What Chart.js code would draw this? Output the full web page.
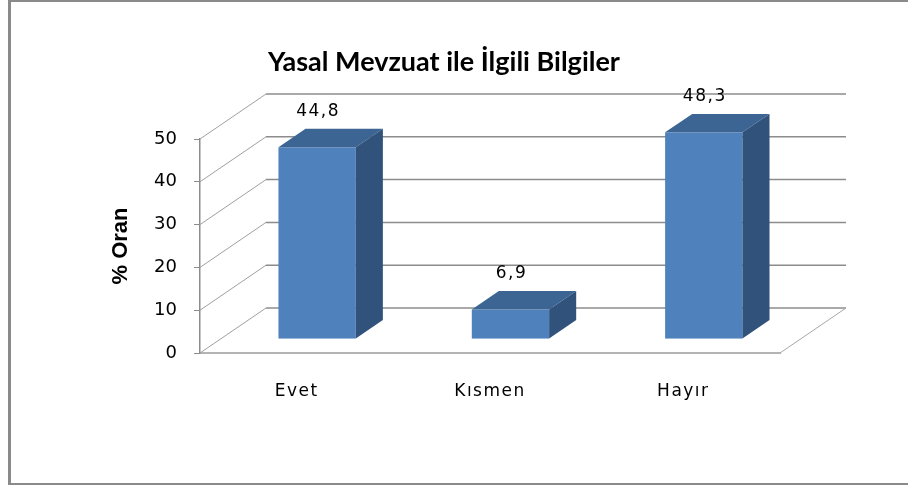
<!DOCTYPE html>
<html>
<head>
<meta charset="utf-8">
<script src="https://cdn.jsdelivr.net/npm/chart.js@4.4.0/dist/chart.umd.min.js"></script>
<style>
  html, body { margin: 0; padding: 0; background: #fff; }
  canvas { display: block; }
</style>
</head>
<body>
<canvas id="chart" width="908" height="488"></canvas>
<script>
const categories = ['Evet', 'Kısmen', 'Hayır'];
const values = [44.8, 6.9, 48.3];
const valueLabels = ['44,8', '6,9', '48,3'];
const yTicks = [0, 10, 20, 30, 40, 50];

// 3D look: offset of the back wall, and where the bars sit in that depth
const depth = { x: 66, y: -45 };
const barFront = 0.31;
const barBack = 0.72;

const poly = (ctx, pts, color) => {
  ctx.beginPath();
  ctx.moveTo(pts[0][0], pts[0][1]);
  pts.slice(1).forEach(p => ctx.lineTo(p[0], p[1]));
  ctx.closePath();
  ctx.fillStyle = color;
  ctx.fill();
};

const line = (ctx, x1, y1, x2, y2) => {
  ctx.beginPath();
  ctx.moveTo(x1, y1);
  ctx.lineTo(x2, y2);
  ctx.stroke();
};

const box3d = {
  id: 'box3d',
  beforeDraw(chart) {
    const ctx = chart.ctx;
    ctx.save();
    ctx.fillStyle = '#fff';
    ctx.fillRect(0, 0, chart.width, chart.height);
    // outer frame
    ctx.strokeStyle = '#8a8a8a';
    ctx.lineWidth = 3;
    line(ctx, 9.5, 0, 9.5, 485);
    ctx.lineWidth = 2;
    line(ctx, 8, 1, chart.width, 1);
    line(ctx, 8, 484, chart.width, 484);
    ctx.restore();
  },
  beforeDatasetsDraw(chart) {
    const { ctx, chartArea: a, scales: { y } } = chart;
    ctx.save();
    // side wall + back wall gridlines
    yTicks.forEach(v => {
      const py = y.getPixelForValue(v);
      ctx.strokeStyle = '#a0a0a0';
      ctx.lineWidth = 1;
      line(ctx, a.left, py, a.left + depth.x, py + depth.y);
      ctx.strokeStyle = '#8c8c8c';
      ctx.lineWidth = 1.5;
      line(ctx, a.left + depth.x, py + depth.y, a.right + depth.x, py + depth.y);
    });
    // floor right edge
    const y0 = y.getPixelForValue(0);
    ctx.strokeStyle = '#a8a8a8';
    ctx.lineWidth = 1;
    line(ctx, a.right, y0, a.right + depth.x, y0 + depth.y);

    // bars
    const dx = depth.x * (barBack - barFront);
    const dy = depth.y * (barBack - barFront);
    chart.getDatasetMeta(0).data.forEach(bar => {
      const { x, y: top, base, width } = bar.getProps(['x', 'y', 'base', 'width'], true);
      const cx = x + depth.x * barFront;
      const t = top + depth.y * barFront;
      const b = base + depth.y * barFront;
      const x0 = cx - width / 2, x1 = cx + width / 2;
      ctx.fillStyle = '#4f81bd';
      ctx.fillRect(x0, t, width, b - t);
      poly(ctx, [[x0, t], [x1, t], [x1 + dx, t + dy], [x0 + dx, t + dy]], '#3d6593');
      poly(ctx, [[x1, t], [x1 + dx, t + dy], [x1 + dx, b + dy], [x1, b]], '#30527b');
    });
    ctx.restore();
  },
  afterDatasetsDraw(chart) {
    const ctx = chart.ctx;
    // spaced-out text for value labels and category labels (x ticks drawn after this)
    ctx.letterSpacing = '1.5px';
    ctx.save();
    ctx.font = '17px "DejaVu Sans"';
    ctx.fillStyle = '#000';
    ctx.textAlign = 'center';
    ctx.textBaseline = 'middle';
    chart.getDatasetMeta(0).data.forEach((bar, i) => {
      const { x, y: top } = bar.getProps(['x', 'y'], true);
      const cx = x + depth.x * barFront;
      const t = top + depth.y * barFront;
      ctx.fillText(valueLabels[i], cx + 1, t - 36);
    });
    ctx.restore();
  },
  afterDraw(chart) {
    chart.ctx.letterSpacing = '0px';
  }
};

new Chart(document.getElementById('chart'), {
  type: 'bar',
  data: {
    labels: categories,
    datasets: [{
      data: values,
      backgroundColor: 'rgba(0,0,0,0)',
      borderWidth: 0,
      categoryPercentage: 0.8,
      barPercentage: 0.5
    }]
  },
  options: {
    responsive: false,
    animation: false,
    events: [],
    layout: { padding: { left: 108, right: 128, top: 0, bottom: 0 } },
    plugins: {
      legend: { display: false },
      tooltip: { enabled: false },
      title: {
        display: true,
        text: 'Yasal Mevzuat ile İlgili Bilgiler',
        color: '#000',
        font: { family: 'Lato', size: 27, weight: 'bold' },
        padding: { top: 46, bottom: 60.6 }
      }
    },
    scales: {
      x: {
        grid: { display: false, drawTicks: false },
        border: { display: true, color: '#b4b4b4', width: 2 },
        ticks: { z: 1, padding: 28, color: '#000', font: { family: 'DejaVu Sans', size: 17 } },
        afterFit: s => { s.height = 135; }
      },
      y: {
        min: yTicks[0],
        max: yTicks[yTicks.length - 1],
        ticks: {
          stepSize: yTicks[1] - yTicks[0],
          padding: 17,
          color: '#000',
          font: { family: 'DejaVu Sans', size: 18 }
        },
        grid: { drawOnChartArea: false, drawTicks: true, tickLength: 6, color: '#8c8c8c' },
        border: { display: true, color: '#8c8c8c', width: 1.5 },
        title: {
          display: true,
          text: '% Oran',
          color: '#000',
          padding: 0,
          font: { family: 'Liberation Sans', size: 22, weight: 'bold' }
        },
        afterFit: s => { s.width = 92; }
      }
    }
  },
  plugins: [box3d]
});
</script>
</body>
</html>
